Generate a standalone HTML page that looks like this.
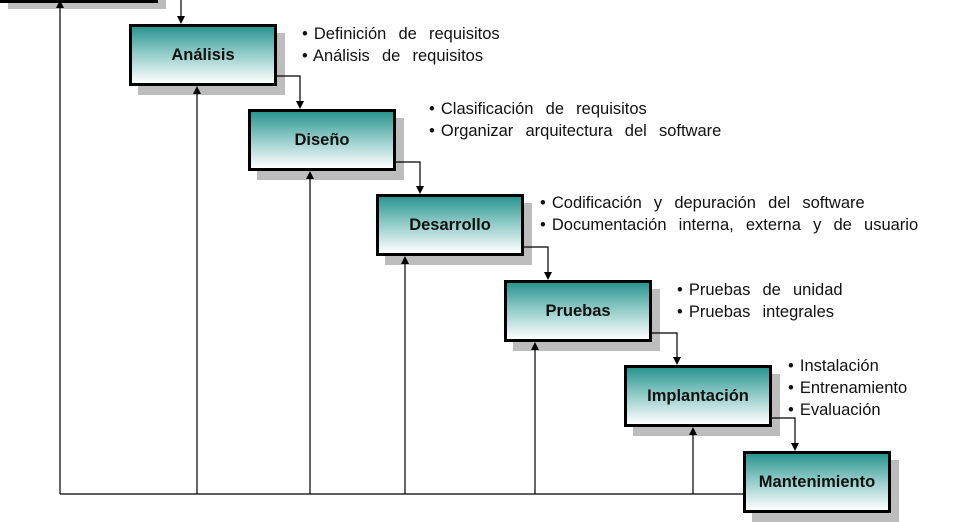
<!DOCTYPE html>
<html><head><meta charset="utf-8"><style>
body{margin:0;width:968px;height:508px;background:#fff;overflow:hidden;position:relative;font-family:"Liberation Sans",Arial,sans-serif}
.sh{position:absolute;background:#bdbdbd}
.b{position:absolute;box-sizing:border-box;border:3px solid #000;background:linear-gradient(#2a9590,#8cc9c6 45%,#fff);display:flex;align-items:center;justify-content:center;font-weight:bold;font-size:16.5px;color:#111}
.t{position:absolute;font-size:16.5px;line-height:22px;color:#111;white-space:pre;word-spacing:1.5px}
svg{position:absolute;left:0;top:0}
</style></head><body>
<div class="sh" style="left:8px;top:0;width:158px;height:9px"></div>
<div class="b" style="left:-3px;top:-60px;width:161px;height:63px"></div>
<div class="sh" style="left:138px;top:33px;width:147px;height:62px"></div>
<div class="b" style="left:129px;top:24px;width:148px;height:62px">Análisis</div>
<div class="sh" style="left:257px;top:118px;width:147px;height:62px"></div>
<div class="b" style="left:248px;top:109px;width:148px;height:62px">Diseño</div>
<div class="sh" style="left:385px;top:203px;width:147px;height:62px"></div>
<div class="b" style="left:376px;top:194px;width:148px;height:62px">Desarrollo</div>
<div class="sh" style="left:513px;top:289px;width:147px;height:62px"></div>
<div class="b" style="left:504px;top:280px;width:148px;height:62px">Pruebas</div>
<div class="sh" style="left:633px;top:374px;width:147px;height:62px"></div>
<div class="b" style="left:624px;top:365px;width:148px;height:62px">Implantación</div>
<div class="sh" style="left:752px;top:460px;width:147px;height:62px"></div>
<div class="b" style="left:743px;top:451px;width:148px;height:62px">Mantenimiento</div>
<svg width="968" height="508">
<g stroke="#000" stroke-width="1.2" fill="none">
<path d="M181,0 V18"/>
<path d="M277,76 H300 V103"/>
<path d="M396,162 H420 V188"/>
<path d="M524,247 H548 V274"/>
<path d="M652,333 H677 V359"/>
<path d="M772,418 H795 V445"/>
<path d="M743,494 H60"/>
<path d="M60,494 V6"/>
<path d="M197,494 V92"/>
<path d="M310,494 V177"/>
<path d="M405,494 V262"/>
<path d="M535,494 V348"/>
<path d="M693,494 V433"/>
</g>
<g fill="#000">
<path d="M177,16 h8 l-4,8z"/>
<path d="M296,101 h8 l-4,8z"/>
<path d="M416,186 h8 l-4,8z"/>
<path d="M544,272 h8 l-4,8z"/>
<path d="M673,357 h8 l-4,8z"/>
<path d="M791,443 h8 l-4,8z"/>
<path d="M56,8 h8 l-4,-8z"/>
<path d="M193,94 h8 l-4,-8z"/>
<path d="M306,179 h8 l-4,-8z"/>
<path d="M401,264 h8 l-4,-8z"/>
<path d="M531,350 h8 l-4,-8z"/>
<path d="M689,435 h8 l-4,-8z"/>
</g></svg>
<div class="t" style="left:302px;top:23px">• Definición  de  requisitos
• Análisis  de  requisitos</div>
<div class="t" style="left:429px;top:98px">• Clasificación  de  requisitos
• Organizar  arquitectura  del  software</div>
<div class="t" style="left:540px;top:192px">• Codificación  y  depuración  del  software
• Documentación  interna,  externa  y  de  usuario</div>
<div class="t" style="left:677px;top:279px">• Pruebas  de  unidad
• Pruebas  integrales</div>
<div class="t" style="left:788px;top:355px">• Instalación
• Entrenamiento
• Evaluación</div>
</body></html>
